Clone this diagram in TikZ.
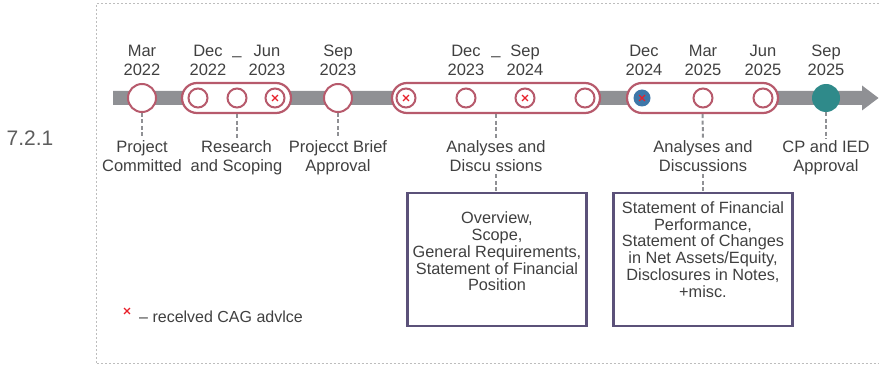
\documentclass[tikz,border=0pt]{standalone}
\usepackage{fontspec}
\setmainfont{Liberation Sans}
\usetikzlibrary{shapes.misc}

\definecolor{barcol}{HTML}{8F9094}
\definecolor{rose}{HTML}{B75A6C}
\definecolor{tealdot}{HTML}{2F8A8A}
\definecolor{bluedot}{HTML}{3E77A9}
\definecolor{boxcol}{HTML}{5B5179}
\definecolor{txt}{HTML}{404040}
\definecolor{framecol}{HTML}{BDBDBD}
\definecolor{xred}{HTML}{E8202A}

\tikzset{
  frameline/.style={framecol, line width=1pt, dash pattern=on 2pt off 2pt},
  bigdot/.style={circle, draw=rose, line width=2pt, fill=white, minimum size=28pt, inner sep=0pt},
  smalldot/.style={circle, draw=rose, line width=2pt, fill=white, minimum size=19pt, inner sep=0pt},
  pill/.style={rectangle, rounded corners=15pt, draw=rose, line width=2.2pt, fill=white, minimum height=30pt, inner sep=0pt},
  xmark/.style={cross out, draw=xred, line width=1.3pt, minimum size=4.5pt, inner sep=0pt},
  datelbl/.style={text=txt, align=center, inner sep=1pt, anchor=base, font=\fontsize{16.5}{19.5}\selectfont},
  evlbl/.style={text=txt, align=center, inner sep=2pt, anchor=base, font=\fontsize{16.5}{19.5}\selectfont},
  conn/.style={barcol, line width=2pt, dash pattern=on 4pt off 2.5pt},
  infobox/.style={rectangle, draw=boxcol, line width=2.3pt, fill=white, minimum width=179pt, minimum height=133pt, inner sep=0pt},
  boxtext/.style={text=txt, align=center, inner sep=0pt, font=\fontsize{16.3}{16.8}\selectfont},
}

\begin{document}
\begin{tikzpicture}[x=1pt, y=-1pt]
  \useasboundingbox (0,0) rectangle (879,366);

  % dotted frame
  \draw[frameline] (879,4) -- (96,4) -- (96,363.5) -- (879,363.5);

  % section number
  \node[text=txt!85, font=\fontsize{21}{24}\selectfont, inner sep=0pt] (sec) at (30,138) {7.2.1};

  % timeline bar with arrow head
  \fill[barcol] (113,91) -- (862,91) -- (862,85.5) -- (878.5,98) -- (862,110.5) -- (862,105) -- (113,105) -- cycle;

  % milestones
  \node[bigdot] (m1) at (142,98) {};
  \node[pill, minimum width=109pt] (p1) at (236.5,98) {};
  \node[smalldot] (p1a) at (198,98) {};
  \node[smalldot] (p1b) at (237,98) {};
  \node[smalldot] (p1c) at (275,98) {};
  \node[xmark] (x1) at (p1c) {};
  \node[bigdot] (m2) at (338,98) {};

  \node[pill, minimum width=208pt] (p2) at (496,98) {};
  \node[smalldot] (p2a) at (406,98) {};
  \node[smalldot] (p2b) at (466,98) {};
  \node[smalldot] (p2c) at (525,98) {};
  \node[smalldot] (p2d) at (585,98) {};
  \node[xmark] (x2) at (p2a) {};
  \node[xmark] (x3) at (p2c) {};

  \node[pill, minimum width=151pt] (p3) at (702.5,98) {};
  \node[circle, fill=bluedot, minimum size=17pt, inner sep=0pt] (p3a) at (642,98) {};
  \node[xmark] (x4) at (p3a) {};
  \node[smalldot] (p3b) at (703,98) {};
  \node[smalldot] (p3c) at (763,98) {};

  \node[circle, fill=tealdot, minimum size=28pt, inner sep=0pt] (m3) at (826,98) {};

  % dates (anchored on the baseline of the year line)
  \node[datelbl] (d1) at (142,76) {Mar\\2022};
  \node[datelbl] (d2) at (208,76) {Dec\\2022};
  \node[datelbl] (u1) at (237,55) {\_};
  \node[datelbl] (d3) at (267,76) {Jun\\2023};
  \node[datelbl] (d4) at (338,76) {Sep\\2023};
  \node[datelbl] (d5) at (466,76) {Dec\\2023};
  \node[datelbl] (u2) at (496,55) {\_};
  \node[datelbl] (d6) at (525,76) {Sep\\2024};
  \node[datelbl] (d7) at (644,76) {Dec\\2024};
  \node[datelbl] (d8) at (703,76) {Mar\\2025};
  \node[datelbl] (d9) at (763,76) {Jun\\2025};
  \node[datelbl] (d10) at (826,76) {Sep\\2025};

  % event labels (anchored on the baseline of the second line)
  \node[evlbl] (e1) at (142,172) {Project\\Committed};
  \node[evlbl] (e2) at (236.5,172) {Research\\and Scoping};
  \node[evlbl] (e3) at (338,172) {Projecct Brief\\Approval};
  \node[evlbl] (e4) at (496,172) {Analyses and\\Discu ssions};
  \node[evlbl] (e5) at (703,172) {Analyses and\\Discussions};
  \node[evlbl] (e6) at (826,172) {CP and IED\\Approval};

  % detail boxes
  \node[infobox] (b1) at (497,259.5) {};
  \node[boxtext] (t1) at ([yshift=8pt]b1.center) {Overview,\\Scope,\\General Requirements,\\Statement of Financial\\Position};
  \node[infobox] (b2) at (703,259.5) {};
  \node[boxtext] (t2) at ([yshift=10pt]b2.center) {Statement of Financial\\Performance,\\Statement of Changes\\in Net Assets/Equity,\\Disclosures in Notes,\\+misc.};

  % connectors
  \draw[conn] (m1.south) -- (e1.north);
  \draw[conn] (p1.south) -- (e2.north);
  \draw[conn] (m2.south) -- (e3.north);
  \draw[conn] (p2.south) -- (e4.north);
  \draw[conn] (p3.south) -- (e5.north);
  \draw[conn] (m3.south) -- (e6.north);
  \draw[conn] (e4.south) -- (e4.south |- b1.north);
  \draw[conn] (e5.south) -- (e5.south |- b2.north);

  % legend
  \node[xmark] (lx) at (127,311) {};
  \node[text=txt, anchor=west, inner sep=0pt, font=\fontsize{16}{18}\selectfont] (lt) at (139,316.5) {– recelved CAG advlce};
\end{tikzpicture}
\end{document}
